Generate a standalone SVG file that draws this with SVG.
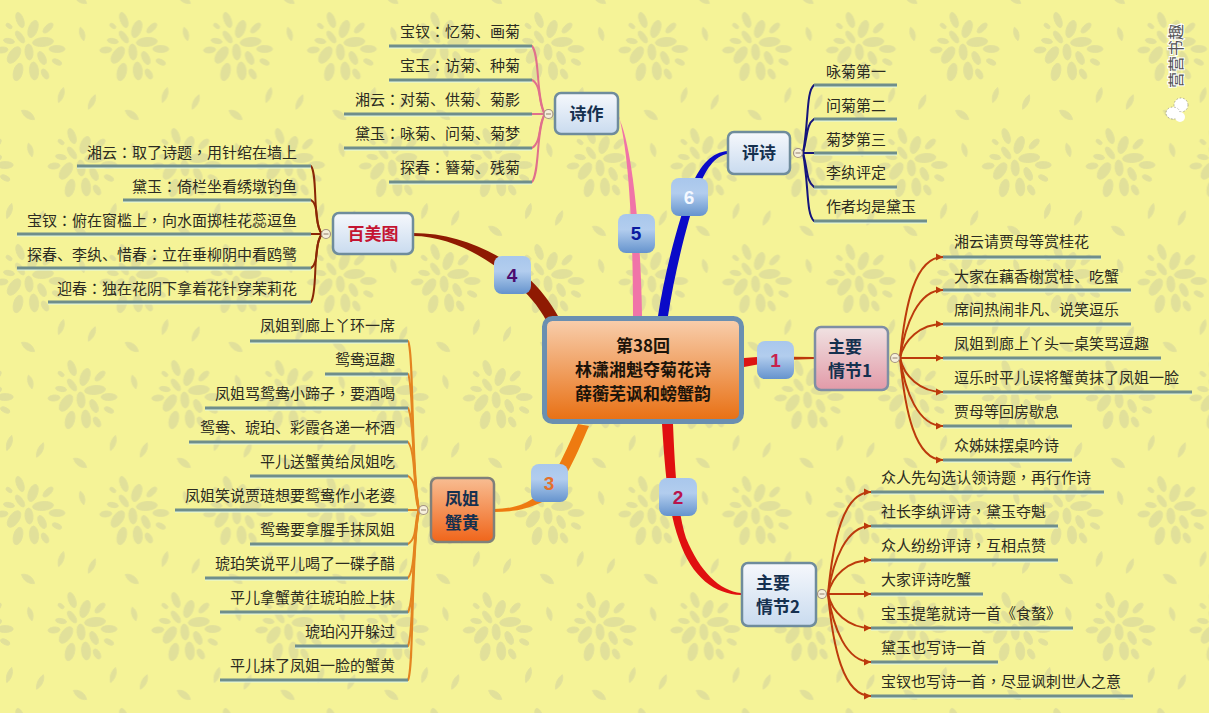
<svg xmlns="http://www.w3.org/2000/svg" xmlns:xlink="http://www.w3.org/1999/xlink" width="1209" height="713" viewBox="0 0 1209 713">
<style>
text{font-family:"Noto Sans CJK SC","Noto Sans",sans-serif}
.q{font-family:"Noto Sans CJK TC","Noto Sans",sans-serif}
.t{font-size:15px;fill:#2b2b22}
.e{text-anchor:end}
.u{fill:none;stroke:#6f8e8b;stroke-width:3;filter:drop-shadow(0 1px .6px #e4fae4)}
.h{font-size:17px;font-weight:700;fill:#15304f}
.m{text-anchor:middle}
.n{stroke:#6f8c9c;stroke-width:2.5}
.num{font-family:"Liberation Sans",sans-serif;font-size:19px;font-weight:700;text-anchor:middle}
.lf{fill:none;stroke-width:2;stroke-linecap:round}
.p{stroke:#e0708c}.r{stroke:#8a2606}.o{stroke:#e48420}.b{stroke:#14147c}.a{stroke:#bc3a0c}
.c{fill:#f6f0dc;stroke:#a39280;stroke-width:1.2}
.d{stroke:#a39280;stroke-width:1.2}
.w{fill:#e1e09a;stroke:#e1e09a;stroke-width:.8}
</style>
<defs>
<g id="f" class="w">
<ellipse cx="-10" cy="-27" rx="3.5" ry="8" transform="rotate(-20 -10 -27)"/>
<ellipse cx="3" cy="-18" rx="4.5" ry="9" transform="rotate(20 3 -18)"/>
<ellipse cx="18" cy="-19" rx="3" ry="6.5" transform="rotate(45 18 -19)"/>
<ellipse cx="13" cy="-5" rx="10.5" ry="4.5" transform="rotate(-5 13 -5)"/>
<ellipse cx="27" cy="2" rx="8" ry="3.5"/>
<ellipse cx="27" cy="15" rx="5" ry="2.5" transform="rotate(25 27 15)"/>
<ellipse cx="15" cy="27" rx="3" ry="5.5" transform="rotate(-30 15 27)"/>
<ellipse cx="4" cy="24" rx="4.5" ry="9" transform="rotate(-5 4 24)"/>
<ellipse cx="-12" cy="25" rx="4.5" ry="9" transform="rotate(15 -12 25)"/>
<ellipse cx="-16" cy="8" rx="5" ry="9.5" transform="rotate(35 -16 8)"/>
<ellipse cx="-28" cy="3" rx="6" ry="3" transform="rotate(-5 -28 3)"/>
<ellipse cx="-21" cy="-6" rx="5.5" ry="2.5" transform="rotate(10 -21 -6)"/>
<ellipse cx="-21" cy="-21" rx="3.5" ry="2" transform="rotate(40 -21 -21)"/>
<ellipse cx="-10" cy="-10" rx="3" ry="7" transform="rotate(-35 -10 -10)"/>
<ellipse cx="-1" cy="5" rx="4" ry="8" transform="rotate(-5 -1 5)"/>
<ellipse cx="12" cy="11" rx="3.5" ry="7" transform="rotate(-25 12 11)"/>
<path d="M0,-7C4,-3 3,4 0,7C-3,3-3,-3 0,-7Z" transform="translate(52 -13) rotate(-15)"/>
<path d="M0,-8C4,-3 3,4 0,8C-3,3-3,-3 0,-8Z" transform="translate(-42 55) rotate(25)"/>
<path d="M0,-8C4,-3 3,4 0,8C-3,3-3,-3 0,-8Z" transform="translate(31 48) rotate(18)"/>
<path d="M0,-8C5,-3 4,4 0,8C-4,3-4,-3 0,-8Z" transform="translate(-2 68) rotate(-55)"/>
</g>
<pattern id="bg" patternUnits="userSpaceOnUse" width="103.8" height="232">
<rect width="104" height="232" fill="#f5f397"/>
<use href="#f" x="30" y="47"/><use href="#f" x="133.8" y="47"/><use href="#f" x="-73.8" y="47"/>
<use href="#f" x="82" y="163"/><use href="#f" x="-21.8" y="163"/><use href="#f" x="185.8" y="163"/>
<use href="#f" x="82" y="-69"/><use href="#f" x="-21.8" y="-69"/><use href="#f" x="30" y="279"/>
</pattern>
<linearGradient id="gc" x1="0" y1="0" x2="0" y2="1"><stop offset="0" stop-color="#f8cfae"/><stop offset="1" stop-color="#e86f12"/></linearGradient>
<linearGradient id="gb" x1="0" y1="0" x2="0" y2="1"><stop offset="0" stop-color="#f6f8fc"/><stop offset="1" stop-color="#c9dbef"/></linearGradient>
<linearGradient id="gp" x1="0" y1="0" x2="0" y2="1"><stop offset="0" stop-color="#f0e2e2"/><stop offset="1" stop-color="#e29aa8"/></linearGradient>
<linearGradient id="go" x1="0" y1="0" x2="0" y2="1"><stop offset="0" stop-color="#f8bd92"/><stop offset="1" stop-color="#f0651a"/></linearGradient>
<linearGradient id="gn" x1="0" y1="0" x2="0" y2="1"><stop offset="0" stop-color="#a9c7ec"/><stop offset=".4" stop-color="#b2cdee"/><stop offset="1" stop-color="#6593cd"/></linearGradient>
<marker id="ar" markerUnits="userSpaceOnUse" markerWidth="8" markerHeight="8" refX="7" refY="4" orient="auto"><path d="M0,0.5L7,4L0,7.5Z" fill="#bc3a0c"/></marker>
</defs>
<rect width="1209" height="713" fill="url(#bg)"/>

<g id="connectors">
<path fill="#f074a8" d="M618,113C626,140 633,200 633,316L642,316C641,240 633,145 618,116Z"/>
<path fill="#0a0ac8" d="M728,151C712,152 700,165 692,185C680,215 665,270 658,316L668,316C675,270 688,220 698,190C705,170 715,155 728,154Z"/>
<path fill="#8f1a02" d="M413,233C455,233 495,250 525,275C540,288 550,302 558,316L547,322C538,305 527,293 515,283C490,258 450,236 413,236Z"/>
<path fill="#ee7a10" d="M494,509C510,509 525,505 535,497C550,487 562,460 578,424L589,426C575,458 560,495 540,503C525,510 510,512 494,512Z"/>
<path fill="#e01010" d="M662,424C665,470 668,510 679,540C692,578 715,594 741,595L741,593C720,591 700,572 686,538C677,510 675,470 673,424Z"/>
<path fill="#dc1412" d="M744,358L770,356L770,362L744,367Z"/>
<path fill="#bc3a0c" d="M770,356.500L814,357L814,359L770,360.500Z"/>

<g class="lf p">
<path d="M545,114C536,100 540,55 532,46"/><path d="M545,114C538,105 542,85 532,80"/><path d="M545,114H532"/><path d="M545,114C538,123 542,142 532,148"/><path d="M545,114C536,128 540,172 532,182"/>
</g>
<g class="lf r">
<path d="M322,234C312,222 318,175 311,166"/><path d="M322,234C314,226 320,205 311,200"/><path d="M322,234H311"/><path d="M322,234C314,242 320,262 311,268"/><path d="M322,234C312,246 318,292 311,302"/>
</g>
<g class="lf o">
<path d="M419,510C411,470 414,350 408,341"/><path d="M419,510C411,470 414,385 408,374"/><path d="M419,510C412,480 415,420 408,408"/><path d="M419,510C413,490 416,452 408,442"/><path d="M419,510C414,500 418,482 408,476"/><path d="M419,510H408"/><path d="M419,510C414,520 418,538 408,544"/><path d="M419,510C413,530 416,568 408,578"/><path d="M419,510C412,540 415,600 408,612"/><path d="M419,510C411,550 414,635 408,646"/><path d="M419,510C411,550 414,670 408,680"/>
</g>
<g class="lf b">
<path d="M803,153C809,120 806,92 814,85"/><path d="M803,153C808,135 806,125 814,119"/><path d="M803,153H814"/><path d="M803,153C808,170 806,181 814,187"/><path d="M803,153C809,186 806,214 814,221"/>
</g>
<g class="lf a" marker-end="url(#ar)">
<path d="M900,358C905,305 915,257 943,257"/><path d="M900,358C905,325 918,290 943,290"/><path d="M900,358C904,340 920,324 943,324"/><path d="M900,358H943"/><path d="M900,358C904,376 920,392 943,392"/><path d="M900,358C905,391 918,426 943,426"/><path d="M900,358C905,411 915,460 943,460"/>
<path d="M828,594C833,541 843,492 871,492"/><path d="M828,594C833,561 846,526 871,526"/><path d="M828,594C832,576 848,560 871,560"/><path d="M828,594H871"/><path d="M828,594C832,612 848,628 871,628"/><path d="M828,594C833,627 846,662 871,662"/><path d="M828,594C833,647 843,696 871,696"/>
</g>
</g>

<g id="center"><rect x="544.500" y="318.500" width="197" height="103" rx="8" fill="url(#gc)" stroke="#6a8fb0" stroke-width="5"/>
<text class="m" x="643" y="352" font-size="17" font-weight="700" fill="#1c140a">第38回</text>
<text class="m" x="643" y="376" font-size="17" font-weight="700" fill="#1c140a">林潇湘魁夺菊花诗</text>
<text class="m" x="643" y="400" font-size="17" font-weight="700" fill="#1c140a">薛蘅芜讽和螃蟹韵</text></g>

<g id="num1"><rect x="757" y="341" width="37" height="38" rx="8" fill="url(#gn)"/><text class="num" x="775.500" y="367" fill="#c8204c">1</text></g>
<g id="num2"><rect x="659" y="478" width="38" height="38" rx="8" fill="url(#gn)"/><text class="num" x="678" y="504" fill="#b8144c">2</text></g>
<g id="num3"><rect x="531" y="464" width="37" height="38" rx="8" fill="url(#gn)"/><text class="num" x="549" y="490" fill="#e4702c">3</text></g>
<g id="num4"><rect x="494" y="256" width="37" height="38" rx="8" fill="url(#gn)"/><text class="num" x="512" y="282" fill="#4c0c70">4</text></g>
<g id="num5"><rect x="618" y="214" width="37" height="39" rx="8" fill="url(#gn)"/><text class="num" x="636" y="240" fill="#0a1aa0">5</text></g>
<g id="num6"><rect x="671" y="178" width="37" height="38" rx="8" fill="url(#gn)"/><text class="num" x="689" y="204" fill="#f4f8ff">6</text></g>

<g id="plot1"><rect class="n" x="815" y="327" width="73" height="63" rx="6" fill="url(#gp)" style="stroke:#7f8ea4"/><text class="h" x="828" y="353">主要</text><text class="h" x="828" y="377">情节1</text><circle class="c" cx="895" cy="358" r="4.500"/><path class="d" d="M892.500,358H897.500"/></g>
<g id="plot2"><rect class="n" x="742" y="563" width="74" height="63" rx="6" fill="url(#gb)"/><text class="h" x="756" y="589">主要</text><text class="h" x="756" y="613">情节2</text><circle class="c" cx="822" cy="594" r="4.500"/><path class="d" d="M819.500,594H824.500"/></g>
<g id="fengjie"><rect class="n" x="431" y="478" width="63" height="64" rx="6" fill="url(#go)" style="stroke:#80807a"/><text class="h m" x="462" y="505">凤姐</text><text class="h m" x="462" y="529">蟹黄</text><circle class="c" cx="423.500" cy="510" r="4.500"/><path class="d" d="M421,510H426"/></g>
<g id="baimei"><rect class="n" x="333" y="213" width="80" height="41" rx="6" fill="url(#gb)"/><text class="h m" x="373" y="240" style="fill:#c41432">百美图</text><circle class="c" cx="326" cy="234" r="4.500"/><path class="d" d="M323.500,234H328.500"/></g>
<g id="shizuo"><rect class="n" x="555" y="93" width="63" height="41" rx="6" fill="url(#gb)"/><text class="h m" x="586.500" y="120">诗作</text><circle class="c" cx="548.500" cy="114" r="4.500"/><path class="d" d="M546,114H551"/></g>
<g id="pingshi"><rect class="n" x="728" y="132" width="62" height="42" rx="6" fill="url(#gb)"/><text class="h m" x="759" y="159">评诗</text><circle class="c" cx="798" cy="153" r="4.500"/><path class="d" d="M795.500,153H800.500"/></g>

<g id="s1"><path class="u" d="M389,46H532"/><text class="t e" x="520" y="37">宝钗<tspan class="q">：</tspan>忆菊、画菊</text></g>
<g id="s2"><path class="u" d="M389,80H532"/><text class="t e" x="520" y="71">宝玉<tspan class="q">：</tspan>访菊、种菊</text></g>
<g id="s3"><path class="u" d="M344,114H532"/><text class="t e" x="520" y="105">湘云<tspan class="q">：</tspan>对菊、供菊、菊影</text></g>
<g id="s4"><path class="u" d="M344,148H532"/><text class="t e" x="520" y="139">黛玉<tspan class="q">：</tspan>咏菊、问菊、菊梦</text></g>
<g id="s5"><path class="u" d="M389,182H532"/><text class="t e" x="520" y="173">探春<tspan class="q">：</tspan>簪菊、残菊</text></g>

<g id="b1"><path class="u" d="M77,166H311"/><text class="t e" x="297" y="158">湘云<tspan class="q">：</tspan>取了诗题<tspan class="q">，</tspan>用针绾在墙上</text></g>
<g id="b2"><path class="u" d="M123,200H311"/><text class="t e" x="297" y="192">黛玉<tspan class="q">：</tspan>倚栏坐看绣墩钓鱼</text></g>
<g id="b3"><path class="u" d="M17,234H311"/><text class="t e" x="297" y="226">宝钗<tspan class="q">：</tspan>俯在窗槛上<tspan class="q">，</tspan>向水面掷桂花蕊逗鱼</text></g>
<g id="b4"><path class="u" d="M17,268H311"/><text class="t e" x="297" y="260">探春、李纨、惜春<tspan class="q">：</tspan>立在垂柳阴中看鸥鹭</text></g>
<g id="b5"><path class="u" d="M48,302H311"/><text class="t e" x="297" y="294">迎春<tspan class="q">：</tspan>独在花阴下拿着花针穿茉莉花</text></g>

<g id="f1"><path class="u" d="M250,341H408"/><text class="t e" x="395" y="331">凤姐到廊上丫环一席</text></g>
<g id="f2"><path class="u" d="M325,374H408"/><text class="t e" x="395" y="365">鸳鸯逗趣</text></g>
<g id="f3"><path class="u" d="M205,408H408"/><text class="t e" x="395" y="399">凤姐骂鸳鸯小蹄子<tspan class="q">，</tspan>要酒喝</text></g>
<g id="f4"><path class="u" d="M189,442H408"/><text class="t e" x="395" y="433">鸳鸯、琥珀、彩霞各递一杯酒</text></g>
<g id="f5"><path class="u" d="M250,476H408"/><text class="t e" x="395" y="467">平儿送蟹黄给凤姐吃</text></g>
<g id="f6"><path class="u" d="M175,510H408"/><text class="t e" x="395" y="501">凤姐笑说贾琏想要鸳鸯作小老婆</text></g>
<g id="f7"><path class="u" d="M250,544H408"/><text class="t e" x="395" y="535">鸳鸯要拿腥手抹凤姐</text></g>
<g id="f8"><path class="u" d="M205,578H408"/><text class="t e" x="395" y="569">琥珀笑说平儿喝了一碟子醋</text></g>
<g id="f9"><path class="u" d="M220,612H408"/><text class="t e" x="395" y="603">平儿拿蟹黄往琥珀脸上抹</text></g>
<g id="f10"><path class="u" d="M295,646H408"/><text class="t e" x="395" y="637">琥珀闪开躲过</text></g>
<g id="f11"><path class="u" d="M220,680H408"/><text class="t e" x="395" y="671">平儿抹了凤姐一脸的蟹黄</text></g>

<g id="p1"><path class="u" d="M814,85H897"/><text class="t" x="826" y="77">咏菊第一</text></g>
<g id="p2"><path class="u" d="M814,119H897"/><text class="t" x="826" y="111">问菊第二</text></g>
<g id="p3"><path class="u" d="M814,153H897"/><text class="t" x="826" y="145">菊梦第三</text></g>
<g id="p4"><path class="u" d="M814,187H897"/><text class="t" x="826" y="178">李纨评定</text></g>
<g id="p5"><path class="u" d="M814,221H927"/><text class="t" x="826" y="212">作者均是黛玉</text></g>

<g id="a1"><path class="u" d="M943,257H1101"/><text class="t" x="954" y="247">湘云请贾母等赏桂花</text></g>
<g id="a2"><path class="u" d="M943,290H1131"/><text class="t" x="954" y="282">大家在藕香榭赏桂、吃蟹</text></g>
<g id="a3"><path class="u" d="M943,324H1131"/><text class="t" x="954" y="315">席间热闹非凡、说笑逗乐</text></g>
<g id="a4"><path class="u" d="M943,358H1161"/><text class="t" x="954" y="349">凤姐到廊上丫头一桌笑骂逗趣</text></g>
<g id="a5"><path class="u" d="M943,392H1192"/><text class="t" x="954" y="383">逗乐时平儿误将蟹黄抹了凤姐一脸</text></g>
<g id="a6"><path class="u" d="M943,426H1072"/><text class="t" x="954" y="417">贾母等回房歇息</text></g>
<g id="a7"><path class="u" d="M943,460H1072"/><text class="t" x="954" y="451">众姊妹摆桌吟诗</text></g>

<g id="c1"><path class="u" d="M871,492H1104"/><text class="t" x="881" y="483">众人先勾选认领诗题<tspan class="q">，</tspan>再行作诗</text></g>
<g id="c2"><path class="u" d="M871,526H1058"/><text class="t" x="881" y="517">社长李纨评诗<tspan class="q">，</tspan>黛玉夺魁</text></g>
<g id="c3"><path class="u" d="M871,560H1058"/><text class="t" x="881" y="551">众人纷纷评诗<tspan class="q">，</tspan>互相点赞</text></g>
<g id="c4"><path class="u" d="M871,594H983"/><text class="t" x="881" y="585">大家评诗吃蟹</text></g>
<g id="c5"><path class="u" d="M871,628H1073"/><text class="t" x="881" y="619">宝玉提笔就诗一首《食螯》</text></g>
<g id="c6"><path class="u" d="M871,662H998"/><text class="t" x="881" y="653">黛玉也写诗一首</text></g>
<g id="c7"><path class="u" d="M871,696H1133"/><text class="t" x="881" y="687">宝钗也写诗一首<tspan class="q">，</tspan>尽显讽刺世人之意</text></g>

<g id="watermark">
<text transform="translate(1182 88) rotate(-90)" font-size="16" fill="#555" stroke="#fff" stroke-width="2" paint-order="stroke">营营书趣</text>
<circle cx="1181" cy="105" r="7" fill="#fff" stroke="#777" stroke-width=".6" stroke-dasharray="1.500 2"/>
<ellipse cx="1173" cy="113" rx="7" ry="6" fill="#fff" stroke="#777" stroke-width=".6" stroke-dasharray="1.500 2"/>
<circle cx="1180" cy="117" r="5" fill="#fff"/>
</g>
</svg>
